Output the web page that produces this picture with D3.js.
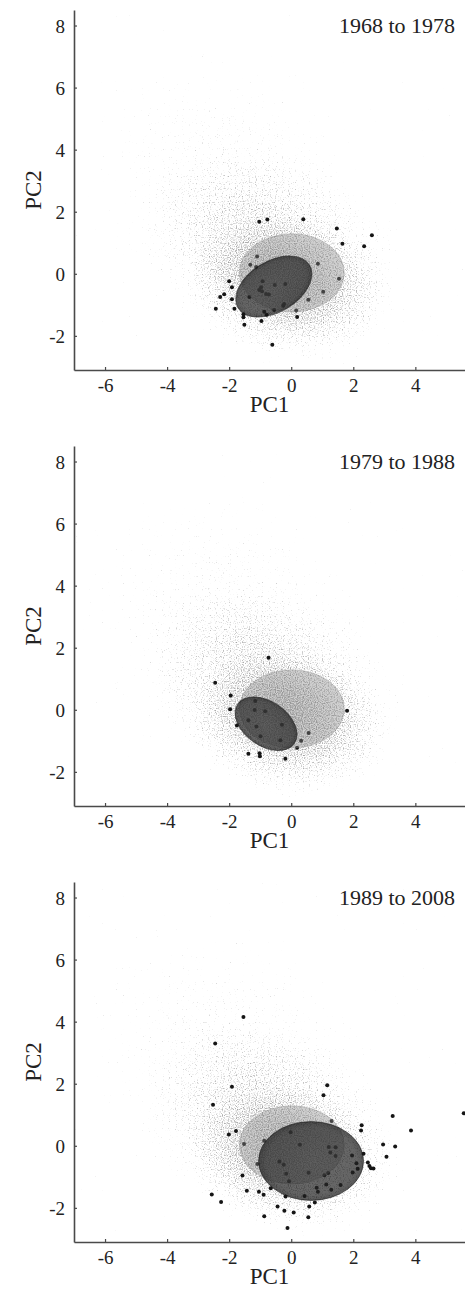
<!DOCTYPE html>
<html>
<head>
<meta charset="utf-8">
<script src="https://cdn.jsdelivr.net/npm/d3@7"></script>
<style>
    body { margin: 0; background: #fff; }
    svg text { font-family: "Liberation Serif", "Times New Roman", serif; fill: #222; }
</style>
</head>
<body>
<div id="chart"></div>
<script>
// panel titles and axis ticks
const panelTitles = ["1968 to 1978", "1979 to 1988", "1989 to 2008"]
const xTicks = [-6, -4, -2, 0, 2, 4]
const yTicks = [-2, 0, 2, 4, 6, 8]

// black points, [PC1, PC2], one list per period
const points1968 = [
    [-1.03, 1.68], [-0.77, 1.75], [0.39, 1.76], [1.47, 1.46], [2.60, 1.24], [1.65, 0.97], [2.35, 0.89],
    [-1.10, 0.56], [-1.32, 0.29], [-1.13, 0.22], [0.86, 0.32], [1.54, -0.16], [1.03, -0.58],
    [-2.00, -0.24], [-1.91, -0.43], [-2.16, -0.66], [-2.29, -0.75], [-1.91, -0.82], [-2.43, -1.13], [-1.83, -1.13],
    [-1.35, -0.75], [-0.92, -0.24], [-0.97, -0.43], [-1.03, -0.52], [-0.94, -0.56], [-0.81, -0.65], [-0.72, -0.67],
    [-0.53, -0.36], [-0.19, -0.33], [-0.23, -0.97], [-0.26, -1.03], [-0.55, -1.17], [-0.87, -1.22], [-0.79, -1.32],
    [0.16, -1.18], [0.19, -1.39], [0.55, -0.84], [-1.54, -1.30], [-1.54, -1.40], [-1.51, -1.64], [-0.96, -1.52], [-0.61, -2.29]
]
const points1979 = [
    [-0.73, 1.68], [-2.45, 0.87], [-1.95, 0.46], [-1.97, 0.02], [-1.16, 0.28], [-1.18, -0.01], [-0.84, -0.05],
    [-1.38, -0.34], [-1.12, -0.54], [-0.30, -0.48], [-1.75, -0.51], [-0.99, -0.85], [-0.35, -0.98], [0.56, -0.75],
    [0.32, -1.00], [0.19, -1.22], [-1.38, -1.42], [-1.02, -1.40], [-1.01, -1.50], [-0.19, -1.58], [1.80, -0.03]
]
const points1989 = [
    [-1.54, 4.15], [-2.45, 3.30], [-1.91, 1.90], [-2.52, 1.32], [1.16, 1.95], [1.04, 1.63], [-1.78, 0.48],
    [-2.01, 0.36], [-1.52, 0.06], [-0.87, 0.16], [-0.02, 0.44], [0.28, 0.03], [1.30, 0.80], [2.27, 0.66],
    [2.25, 0.49], [3.27, 0.96], [3.86, 0.49], [5.56, 1.05], [2.96, 0.04], [3.35, -0.02], [3.07, -0.35],
    [1.21, -0.04], [1.43, -0.05], [1.26, -0.22], [1.43, -0.33], [1.96, -0.31], [2.33, -0.26], [2.10, -0.56],
    [2.14, -0.74], [1.98, -0.86], [2.47, -0.54], [2.52, -0.65], [2.57, -0.72], [2.65, -0.73], [0.56, -0.87],
    [1.07, -0.95], [1.19, -0.88], [1.13, -1.25], [0.82, -1.35], [0.86, -1.48], [1.59, -1.26], [1.29, -1.42],
    [0.43, -1.62], [0.76, -1.83], [0.58, -1.96], [0.55, -2.30], [-1.09, -0.59], [-0.38, -0.51], [-0.24, -0.61],
    [-0.16, -0.90], [-0.07, -1.14], [-0.66, -1.37], [-1.57, -0.96], [-1.43, -1.45], [-1.04, -1.48], [-0.89, -1.58],
    [-2.56, -1.57], [-2.26, -1.81], [-0.18, -1.63], [-0.44, -1.96], [-0.22, -2.09], [0.08, -2.15], [-0.87, -2.27],
    [-0.12, -2.65]
]
const panelPoints = [points1968, points1979, points1989]

// ellipses: [cx, cy, rx, ry, angle in degrees]
const groupEllipses = [
    [-0.56, -0.41, 1.34, 0.82, 31],
    [-0.81, -0.45, 1.11, 0.71, -35],
    [0.64, -0.49, 1.69, 1.27, 0]
]
const refEllipse = [0.02, 0.03, 1.69, 1.26, 0]

// background population density: [cx, cy, rx, ry, angle, weight]
const cloudParts = [
    [0.0, -0.5, 3.5, 2.4, -8, 0.28],
    [-0.4, 0.4, 4.8, 3.4, -22, 0.22],
    [-1.6, 2.3, 6.2, 4.6, -45, 0.17]
]

const W = 465, H = 1290
const margin = {left: 74, right: 0, top: 10}
const panelStep = 436
const plotH = 360
const serif = '"Liberation Serif", "Times New Roman", serif'

buildChart()

function buildChart() {
    let svg = d3.select("#chart")
                .append("svg")
                    .attr("width", W)
                    .attr("height", H)
    let defs = svg.append("defs")

    let cg = defs.append("radialGradient").attr("id", "cloudGrad")
    cg.append("stop").attr("offset", 0).attr("stop-color", "#000").attr("stop-opacity", 1)
    cg.append("stop").attr("offset", 0.45).attr("stop-color", "#000").attr("stop-opacity", 0.65)
    cg.append("stop").attr("offset", 0.75).attr("stop-color", "#000").attr("stop-opacity", 0.3)
    cg.append("stop").attr("offset", 1).attr("stop-color", "#000").attr("stop-opacity", 0)

    let dg = defs.append("radialGradient").attr("id", "darkGrad")
    dg.append("stop").attr("offset", 0).attr("stop-color", "#2e2e2e")
    dg.append("stop").attr("offset", 0.85).attr("stop-color", "#242424")
    dg.append("stop").attr("offset", 1).attr("stop-color", "#101010")

    // stipple texture for the population cloud
    let f = defs.append("filter").attr("id", "stipple")
                .attr("filterUnits", "userSpaceOnUse")
                .attr("x", 0).attr("y", 0).attr("width", W).attr("height", H)
                .attr("color-interpolation-filters", "sRGB")
    f.append("feTurbulence").attr("type", "fractalNoise").attr("baseFrequency", 0.85)
        .attr("numOctaves", 1).attr("seed", 4).attr("result", "noise")
    f.append("feColorMatrix").attr("in", "noise").attr("type", "matrix")
        .attr("values", "0 0 0 0 0  0 0 0 0 0  0 0 0 0 0  1 0 0 0 0").attr("result", "na")
    f.append("feComposite").attr("in", "SourceAlpha").attr("in2", "na").attr("operator", "arithmetic")
        .attr("k1", 0).attr("k2", 3).attr("k3", 3).attr("k4", -2.35).attr("result", "mask")
    f.append("feFlood").attr("flood-color", "#a0a0a0").attr("result", "fl")
    f.append("feComposite").attr("in", "fl").attr("in2", "mask").attr("operator", "in")

    let x = d3.scaleLinear().domain([-7, 5.6]).range([margin.left, W - margin.right])

    panelTitles.forEach((title, i) => {
        let top = margin.top + i * panelStep
        let y = d3.scaleLinear().domain([-3.1, 8.5]).range([top + plotH, top])
        let g = svg.append("g").attr("class", "panel")

        defs.append("clipPath").attr("id", "clip" + i)
            .append("rect")
                .attr("x", x.range()[0]).attr("y", top)
                .attr("width", x.range()[1] - x.range()[0]).attr("height", plotH)

        let ell = (sel, e) => sel
            .attr("rx", x(e[2]) - x(0))
            .attr("ry", y(0) - y(e[3]))
            .attr("transform", `translate(${x(e[0])},${y(e[1])}) rotate(${-e[4]})`)

        // population cloud
        let cloud = g.append("g").attr("clip-path", `url(#clip${i})`)
                        .append("g").attr("filter", "url(#stipple)")
        cloud.selectAll("ellipse")
            .data(cloudParts)
            .enter().append("ellipse")
                .attr("fill", "url(#cloudGrad)")
                .attr("fill-opacity", d => d[5])
                .each(function(d) { ell(d3.select(this), d) })

        // period points
        g.append("g").attr("clip-path", `url(#clip${i})`)
            .selectAll("circle")
            .data(panelPoints[i])
            .enter().append("circle")
                .attr("cx", d => x(d[0]))
                .attr("cy", d => y(d[1]))
                .attr("r", 2)
                .attr("fill", "#151515")

        // reference ellipse and period ellipse
        g.append("ellipse")
            .attr("fill", "#8a8a8a").attr("fill-opacity", 0.4)
            .attr("stroke", "#8a8a8a").attr("stroke-opacity", 0.35).attr("stroke-width", 1)
            .call(ell, refEllipse)
        g.append("ellipse")
            .attr("fill", "url(#darkGrad)").attr("fill-opacity", 0.7)
            .attr("stroke", "#1a1a1a").attr("stroke-opacity", 0.6).attr("stroke-width", 1)
            .call(ell, groupEllipses[i])

        // axes
        let xAxis = g.append("g")
            .attr("transform", `translate(0,${top + plotH})`)
            .call(d3.axisBottom(x).tickValues(xTicks).tickFormat(d => String(d))
                    .tickSize(-3).tickSizeOuter(0).tickPadding(9))
        let yAxis = g.append("g")
            .attr("transform", `translate(${margin.left},0)`)
            .call(d3.axisLeft(y).tickValues(yTicks).tickFormat(d => String(d))
                    .tickSize(-3).tickSizeOuter(0).tickPadding(9))
        for (let a of [xAxis, yAxis]) {
            a.attr("font-family", null).attr("font-size", null)
            a.select(".domain").attr("stroke", "#4a4a4a").attr("stroke-width", 1.6)
            a.selectAll(".tick line").attr("stroke", "#4a4a4a").attr("stroke-width", 1.2)
            a.selectAll(".tick text")
                .style("font-family", serif).style("font-size", "19px")
                .attr("fill", "#1e1e1e")
        }
        yAxis.selectAll(".tick text").attr("dy", "0.36em")

        g.append("text")
            .attr("x", 455).attr("y", top + 23)
            .attr("text-anchor", "end")
            .attr("font-size", 22)
            .text(title)

        g.append("text")
            .attr("x", (x.range()[0] + x.range()[1]) / 2)
            .attr("y", top + plotH + 42)
            .attr("text-anchor", "middle")
            .attr("font-size", 23)
            .text("PC1")

        g.append("text")
            .attr("transform", `translate(41,${top + plotH / 2}) rotate(-90)`)
            .attr("text-anchor", "middle")
            .attr("font-size", 23)
            .text("PC2")
    })
}
</script>
</body>
</html>
